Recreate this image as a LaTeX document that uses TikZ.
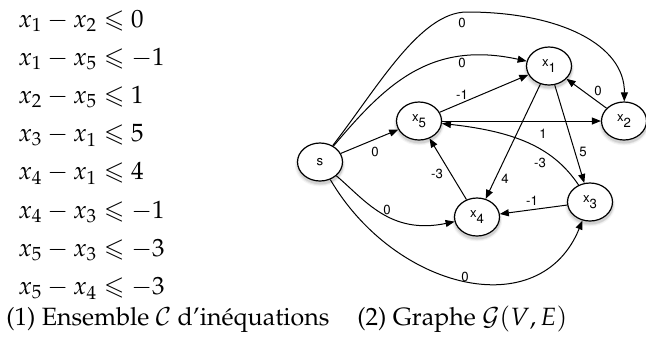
\documentclass[tikz,border=0pt]{standalone}
\usepackage[T1]{fontenc}
\usepackage{mathpazo}
\usepackage{amsmath,amssymb}
\usetikzlibrary{arrows.meta,shapes.geometric,shadows}
\newcommand\gfont{\fontfamily{phv}\fontsize{6.6}{7}\selectfont}
\newcommand\xs[1]{x\raisebox{-3pt}{#1}}
\begin{document}
\begin{tikzpicture}[x=0.5pt,y=-0.5pt,
  >={Triangle[length=4.5pt,width=3.5pt]},
  vert/.style={ellipse, draw, line width=0.6pt, fill=white,
    minimum width=22.5pt, minimum height=19pt, inner sep=0pt, font=\gfont,
    drop shadow={shadow xshift=0pt, shadow yshift=-1.4pt, shadow scale=1.12, opacity=0.08},
    drop shadow={shadow xshift=0pt, shadow yshift=-1.4pt, shadow scale=1.07, opacity=0.12},
    drop shadow={shadow xshift=0.2pt, shadow yshift=-1.4pt, shadow scale=1.03, opacity=0.2}},
  edge/.style={->, line width=0.5pt},
  lab/.style={font=\gfont, inner sep=0pt},
  ineq/.style={anchor=base west, inner sep=0pt, font=\fontsize{12.5}{15}\selectfont},
  capt/.style={anchor=base west, inner sep=0pt, font=\fontsize{12.5}{15}\selectfont}]
\useasboundingbox (0,0) rectangle (646,339);
% inequalities
\node[ineq] (i1) at (18,27) {$x_1 - x_2 \leqslant 0$};
\node[ineq] (i2) at (18,65.2) {$x_1 - x_5 \leqslant -1$};
\node[ineq] (i3) at (18,103.4) {$x_2 - x_5 \leqslant 1$};
\node[ineq] (i4) at (18,141.6) {$x_3 - x_1 \leqslant 5$};
\node[ineq] (i5) at (18,179.8) {$x_4 - x_1 \leqslant 4$};
\node[ineq] (i6) at (18,218) {$x_4 - x_3 \leqslant -1$};
\node[ineq] (i7) at (18,256.2) {$x_5 - x_3 \leqslant -3$};
\node[ineq] (i8) at (18,294.4) {$x_5 - x_4 \leqslant -3$};
\node[capt] (c1) at (6,325) {(1) Ensemble $\mathcal{C}$ d'in\'equations};
\node[capt] (c2) at (357,325) {(2) Graphe $\mathcal{G}(V,E)$};
% graph nodes
\node[vert] (s) at (320,162) {s};
\node[vert] (x5) at (419,121) {\xs5};
\node[vert] (x1) at (549,66) {\xs1};
\node[vert] (x2) at (624,121) {\xs2};
\node[vert] (x4) at (477,217) {\xs4};
\node[vert] (x3) at (590,202) {\xs3};
% edges
\draw[edge] (s) .. controls (378,87) and (420,12) .. (467,12) .. controls (560,12) and (625,45) .. (x2);
\draw[edge] (s) .. controls (385,85) and (430,40) .. (x1);
\draw[edge] (s) -- (x5);
\draw[edge] (x5) -- (x1);
\draw[edge] (x5) -- (x2);
\draw[edge] (x2) -- (x1);
\draw[edge] (x1) -- (x3);
\draw[edge] (x1) -- (x4);
\draw[edge] (x4) -- (x5);
\draw[edge] (x3) -- (x4);
\draw[edge] (x3) .. controls (555,150) and (520,132) .. (x5);
\draw[edge] (s) .. controls (365,200) and (390,235) .. (x4);
\draw[edge] (s) .. controls (395,290) and (540,325) .. (x3);
% labels
\node[lab] (l1) at (462,23) {0};
\node[lab] (l2) at (462,63) {0};
\node[lab] (l3) at (462,95) {-1};
\node[lab] (l4) at (375,152) {0};
\node[lab] (l5) at (543,134) {1};
\node[lab] (l6) at (598,91) {0};
\node[lab] (l7) at (583,152) {5};
\node[lab] (l8) at (540,163) {-3};
\node[lab] (l9) at (437,174) {-3};
\node[lab] (l10) at (505,179) {4};
\node[lab] (l11) at (532,201) {-1};
\node[lab] (l12) at (387,210) {0};
\node[lab] (l13) at (465,277) {0};
\end{tikzpicture}
\end{document}
